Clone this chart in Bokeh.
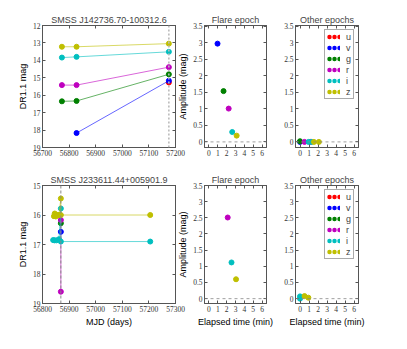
from bokeh.plotting import figure
from bokeh.layouts import column, row
from bokeh.models import (Range1d, LinearAxis, Span, Legend, LegendItem,
                          FixedTicker)
from bokeh.embed import file_html
from bokeh.resources import INLINE

# ---------------- data ----------------
filters = ["u", "v", "g", "r", "i", "z"]
colors = ["#ff0000", "#0000ff", "#008000", "#bf00bf", "#00bfbf", "#bfbf00"]

# Star 1 : SMSS J142736.70-100312.6
s1_title = "SMSS J142736.70-100312.6"
s1_flare_mjd = 57175
s1_mjd = {
    "u": [57175],
    "v": [56828, 57175],
    "g": [56773, 56828, 57175],
    "r": [56773, 56828, 57175],
    "i": [56773, 56828, 57175],
    "z": [56773, 56828, 57175],
}
s1_mag = {
    "u": [15.27],
    "v": [18.17, 15.17],
    "g": [16.35, 16.33, 14.80],
    "r": [15.42, 15.42, 14.39],
    "i": [13.84, 13.80, 13.51],
    "z": [13.22, 13.22, 13.04],
}
s1_flare_filters = ["v", "g", "r", "i", "z"]
s1_flare_time = [0.97, 1.65, 2.23, 2.63, 3.13]
s1_flare_amp = [2.98, 1.54, 1.01, 0.30, 0.19]
s1_other_time = {"v": [0.0], "g": [0.0], "r": [0.5, 1.15], "i": [0.95, 1.3], "z": [1.55, 2.1]}
s1_other_amp = {"v": [0.0], "g": [0.02], "r": [0.0, 0.0], "i": [0.0, 0.0], "z": [0.0, 0.0]}

# Star 2 : SMSS J233611.44+005901.9
s2_title = "SMSS J233611.44+005901.9"
s2_flare_mjd = 56869
s2_mjd = {
    "v": [56869],
    "g": [56869],
    "r": [56869, 56869],
    "i": [56840, 56845, 56852, 56862, 56869, 56869, 57205],
    "z": [56843, 56846, 56850, 56855, 56862, 56869, 56869, 57205],
}
s2_mag = {
    "v": [16.57],
    "g": [16.28],
    "r": [16.17, 18.60],
    "i": [16.85, 16.86, 16.86, 16.82, 15.78, 16.90, 16.90],
    "z": [16.04, 15.95, 16.05, 16.00, 16.00, 15.44, 16.00, 16.00],
}
s2_flare_filters = ["r", "i", "z"]
s2_flare_time = [2.12, 2.55, 3.06]
s2_flare_amp = [2.51, 1.12, 0.60]
s2_other_time = {"i": [0.0, 0.0], "z": [0.5, 0.93]}
s2_other_amp = {"i": [0.07, 0.0], "z": [0.08, 0.03]}

mjd_ticks_1 = [56700, 56800, 56900, 57000, 57100, 57200]
mag_ticks_1 = [12, 13, 14, 15, 16, 17, 18, 19]
mjd_ticks_2 = [56800, 56900, 57000, 57100, 57200, 57300]
mag_ticks_2 = [15, 16, 17, 18, 19]
time_ticks = [0, 1, 2, 3, 4, 5, 6]
amp_ticks = [0.0, 0.5, 1.0, 1.5, 2.0, 2.5, 3.0, 3.5]

# ---------------- styling helpers ----------------
FRAME = "#555555"
SANS = "Liberation Sans"
SERIF = "Liberation Serif"
col = dict(zip(filters, colors))
NAN = float("nan")


def style_label(ax):
    ax.axis_label_text_font = SANS
    ax.axis_label_text_font_size = "9px"
    ax.axis_label_text_font_style = "normal"
    ax.axis_label_text_color = "black"
    ax.axis_label_standoff = 2


def make_fig(w, h, bl, br, bt, bb, xr, yr, title, xticks, yticks, margin=None):
    p = figure(width=w, height=h, x_range=xr, y_range=yr, output_backend="svg",
               toolbar_location=None, min_border_left=bl, min_border_right=br,
               min_border_top=bt, min_border_bottom=bb, title=title)
    if margin is not None:
        p.margin = margin
        p.border_fill_alpha = 0
    else:
        p.border_fill_color = "white"
    p.title.text_font = SANS
    p.title.text_font_size = "9px"
    p.title.text_font_style = "normal"
    p.title.align = "center"
    p.title.standoff = 1
    p.title.offset = 0
    p.outline_line_color = FRAME
    p.outline_line_width = 1
    p.grid.visible = False
    p.background_fill_color = "white"
    xax, yax = p.below[0], p.left[0]
    for ax in [xax, yax]:
        ax.axis_line_color = FRAME
        ax.major_tick_line_color = FRAME
        ax.major_tick_in = 3
        ax.major_tick_out = 0
        ax.minor_tick_line_color = None
        ax.major_label_text_font = SERIF
        ax.major_label_text_font_size = "7.5px"
        ax.major_label_text_color = "#333333"
        ax.major_label_standoff = 2
        style_label(ax)
    xax.ticker = FixedTicker(ticks=xticks)
    yax.ticker = FixedTicker(ticks=yticks)
    for side, ticks in (("above", xticks), ("right", yticks)):
        ax = LinearAxis(ticker=FixedTicker(ticks=ticks))
        ax.axis_line_color = FRAME
        ax.major_tick_line_color = FRAME
        ax.major_tick_in = 3
        ax.major_tick_out = 0
        ax.minor_tick_line_color = None
        ax.major_label_text_color = None
        ax.major_label_text_font_size = "1px"
        ax.major_label_standoff = 0
        p.add_layout(ax, side)
    return p


def add_legend(p):
    items = []
    for f in filters:
        r = p.line(x=[NAN], y=[NAN], line_color=col[f], line_width=4.5, line_dash="0 5",
                   line_dash_offset=2, line_cap="round")
        items.append(LegendItem(label=f, renderers=[r]))
    leg = Legend(items=items, location="top_right", margin=4, padding=1, spacing=0,
                 glyph_width=14, glyph_height=11, label_height=11, label_width=6,
                 label_standoff=6,
                 label_text_font=SANS, label_text_font_size="9px",
                 border_line_color=FRAME, border_line_width=1,
                 background_fill_color="white", background_fill_alpha=1)
    p.add_layout(leg)


# layout geometry (px); the "Flare epoch" panels overlap the light-curve panels'
# empty right border (transparent border fill) so their y-label fits.
OVER = 13
W1, W2, W3 = 188, 93 + OVER, 110
H1, H2 = 164, 165
BL1, BR1 = 42, 13
BL2, BR2 = 12 + OVER, 15
BL3, BR3 = 12, 33
BT1, BB1 = 25, 17
BT2, BB2 = 21, 25
M2 = (0, 0, 0, -OVER)


def lightcurve(p, mjd, mag, flare_mjd, span_color, span_width, span_dash):
    p.add_layout(Span(location=flare_mjd, dimension="height", line_color=span_color,
                      line_width=span_width, line_dash=span_dash))
    for f in filters:
        if f not in mjd:
            continue
        p.line(mjd[f], mag[f], line_color=col[f], line_width=1, line_alpha=0.6)
        p.scatter(mjd[f], mag[f], size=5, fill_color=col[f], line_color=col[f])


def amplitude(p, times, amps, flist=None):
    p.add_layout(Span(location=0, dimension="width", line_color="#888888",
                      line_width=0.8, line_dash="3 3"))
    if flist is not None:
        p.scatter(times, amps, size=5, fill_color=[col[f] for f in flist],
                  line_color=[col[f] for f in flist])
    else:
        for f in filters:
            if f in times:
                p.scatter(times[f], amps[f], size=5, fill_color=col[f], line_color=col[f])


# ---------------- row 1 ----------------
p1 = make_fig(W1, H1, BL1, BR1, BT1, BB1, Range1d(56700, 57200), Range1d(19, 12),
              s1_title, mjd_ticks_1, mag_ticks_1)
p1.left[0].axis_label = "DR1.1 mag"
lightcurve(p1, s1_mjd, s1_mag, s1_flare_mjd, "#bbbbbb", 1.6, "2 2")

p2 = make_fig(W2, H1, BL2, BR2, BT1, BB1, Range1d(-0.5, 6.5), Range1d(-0.17, 3.53),
              "Flare epoch", time_ticks, amp_ticks, margin=M2)
p2.left[0].axis_label = "Amplitude (mag)"
amplitude(p2, s1_flare_time, s1_flare_amp, s1_flare_filters)

p3 = make_fig(W3, H1, BL3, BR3, BT1, BB1, Range1d(-0.5, 6.5), Range1d(-0.17, 3.53),
              "Other epochs", time_ticks, amp_ticks)
amplitude(p3, s1_other_time, s1_other_amp)
add_legend(p3)

# ---------------- row 2 ----------------
p4 = make_fig(W1, H2, BL1, BR1, BT2, BB2, Range1d(56800, 57300), Range1d(19, 15),
              s2_title, mjd_ticks_2, mag_ticks_2)
p4.left[0].axis_label = "DR1.1 mag"
p4.below[0].axis_label = "MJD (days)"
lightcurve(p4, s2_mjd, s2_mag, s2_flare_mjd, "#888888", 1, "3 2")

p5 = make_fig(W2, H2, BL2, BR2, BT2, BB2, Range1d(-0.5, 6.5), Range1d(-0.15, 3.5),
              "Flare epoch", time_ticks, amp_ticks, margin=M2)
p5.left[0].axis_label = "Amplitude (mag)"
p5.below[0].axis_label = "Elapsed time (min)"
amplitude(p5, s2_flare_time, s2_flare_amp, s2_flare_filters)

p6 = make_fig(W3, H2, BL3, BR3, BT2, BB2, Range1d(-0.5, 6.5), Range1d(-0.15, 3.5),
              "Other epochs", time_ticks, amp_ticks)
p6.below[0].axis_label = "Elapsed time (min)"
amplitude(p6, s2_other_time, s2_other_amp)
add_legend(p6)

layout = column(row(p1, p2, p3), row(p4, p5, p6))
open("out.html", "w").write(file_html(layout, INLINE))
